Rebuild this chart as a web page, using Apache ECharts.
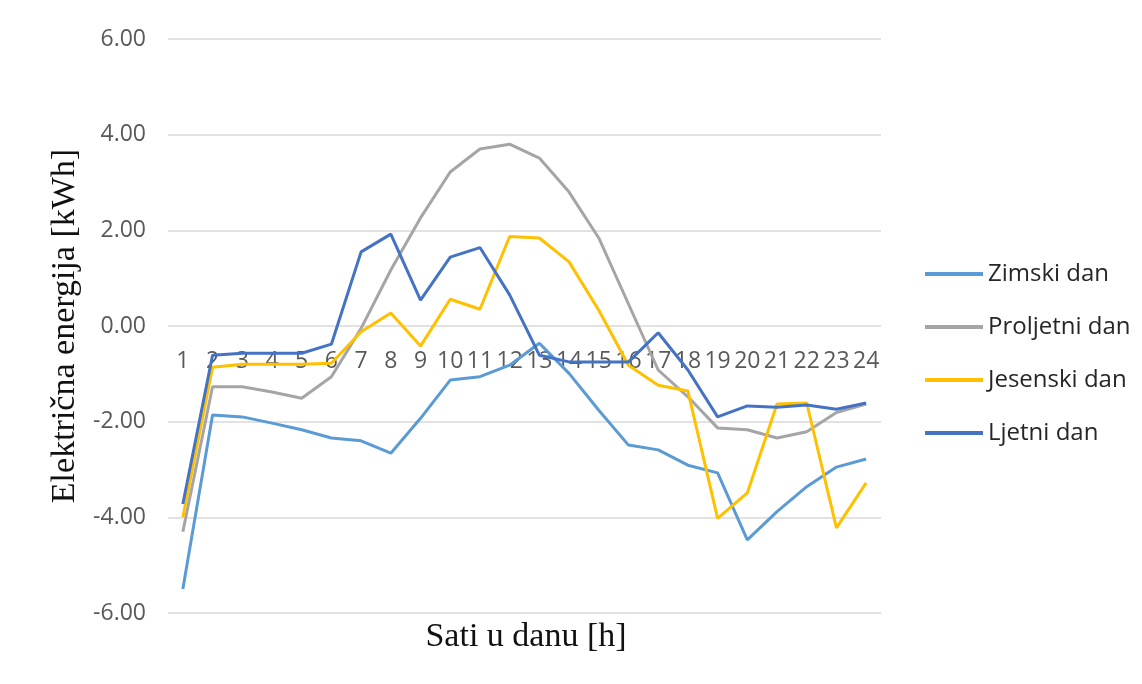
<!DOCTYPE html>
<html>
<head>
<meta charset="utf-8">
<script src="https://cdn.jsdelivr.net/npm/echarts@6/dist/echarts.min.js"></script>
<style>
html,body{margin:0;padding:0;background:#fff;}
#c{width:1142px;height:684px;}
</style>
</head>
<body>
<div id="c"></div>
<script>
const hours = ['1','2','3','4','5','6','7','8','9','10','11','12','13','14','15','16','17','18','19','20','21','22','23','24'];
const yTicks = [-6, -4, -2, 0, 2, 4, 6];
const seriesNames = ['Zimski dan', 'Proljetni dan', 'Jesenski dan', 'Ljetni dan'];
const zimski = [-5.50, -1.86, -1.90, -2.03, -2.17, -2.34, -2.40, -2.66, -1.93, -1.13, -1.06, -0.82, -0.36, -0.99, -1.76, -2.49, -2.59, -2.91, -3.07, -4.47, -3.88, -3.36, -2.95, -2.78];
const proljetni = [-4.30, -1.27, -1.27, -1.38, -1.51, -1.06, -0.05, 1.17, 2.26, 3.22, 3.70, 3.80, 3.51, 2.80, 1.84, 0.46, -0.92, -1.48, -2.13, -2.17, -2.34, -2.21, -1.81, -1.63];
const jesenski = [-4.00, -0.86, -0.80, -0.80, -0.80, -0.78, -0.12, 0.27, -0.42, 0.56, 0.35, 1.87, 1.84, 1.34, 0.33, -0.82, -1.24, -1.36, -4.02, -3.49, -1.63, -1.61, -4.22, -3.28];
const ljetni = [-3.72, -0.61, -0.57, -0.57, -0.57, -0.38, 1.55, 1.92, 0.54, 1.44, 1.64, 0.65, -0.61, -0.75, -0.75, -0.75, -0.14, -0.92, -1.90, -1.67, -1.70, -1.65, -1.74, -1.61];
const xTitle = 'Sati u danu [h]';
const yTitle = 'Električna energija [kWh]';

const colors = ['#5B9BD5', '#A5A5A5', '#FFC000', '#4472C4'];
const values = [zimski, proljetni, jesenski, ljetni];

const gridTop = 39, gridBottom = 71, H = 684;
// move the category axis up to the zero line of the value axis
const plotH = H - gridTop - gridBottom;
const zeroOffset = -plotH * (0 - yTicks[0]) / (yTicks[yTicks.length - 1] - yTicks[0]);

const chart = echarts.init(document.getElementById('c'), null, {renderer: 'canvas'});
chart.setOption({
  animation: false,
  backgroundColor: '#ffffff',
  color: colors,
  grid: {left: 168, right: 261, top: gridTop, bottom: gridBottom, containLabel: false},
  legend: {
    orient: 'vertical',
    left: 920,
    top: 257,
    itemWidth: 58,
    itemHeight: 4,
    itemGap: 29,
    icon: 'rect',
    data: seriesNames,
    textStyle: {fontFamily: 'Open Sans', fontSize: 24, color: '#262626', lineHeight: 24}
  },
  xAxis: {
    type: 'category',
    data: hours,
    boundaryGap: true,
    position: 'bottom',
    offset: zeroOffset,
    axisLine: {show: false, onZero: false},
    axisTick: {show: false},
    splitLine: {show: false},
    axisLabel: {interval: 0, margin: 24, fontFamily: 'Open Sans', fontSize: 23, color: '#595959'}
  },
  yAxis: {
    type: 'value',
    min: yTicks[0],
    max: yTicks[yTicks.length - 1],
    interval: 2,
    axisLine: {show: false},
    axisTick: {show: false},
    splitLine: {lineStyle: {color: '#d9d9d9', width: 1.5}},
    axisLabel: {margin: 22, fontFamily: 'Open Sans', fontSize: 23, color: '#595959',
      formatter: v => v.toFixed(2)}
  },
  graphic: [
    {type: 'text', x: 526, y: 637, style: {text: xTitle, font: '34px "Liberation Serif"', fill: '#111', align: 'center', verticalAlign: 'middle'}},
    {type: 'text', x: 65, y: 326, rotation: Math.PI / 2, style: {text: yTitle, font: '34px "Liberation Serif"', fill: '#111', align: 'center', verticalAlign: 'middle'}}
  ],
  series: seriesNames.map((n, i) => ({
    name: n,
    type: 'line',
    data: values[i],
    showSymbol: false,
    symbol: 'none',
    lineStyle: {width: 3, color: colors[i]},
    itemStyle: {color: colors[i]}
  }))
});
</script>
</body>
</html>
